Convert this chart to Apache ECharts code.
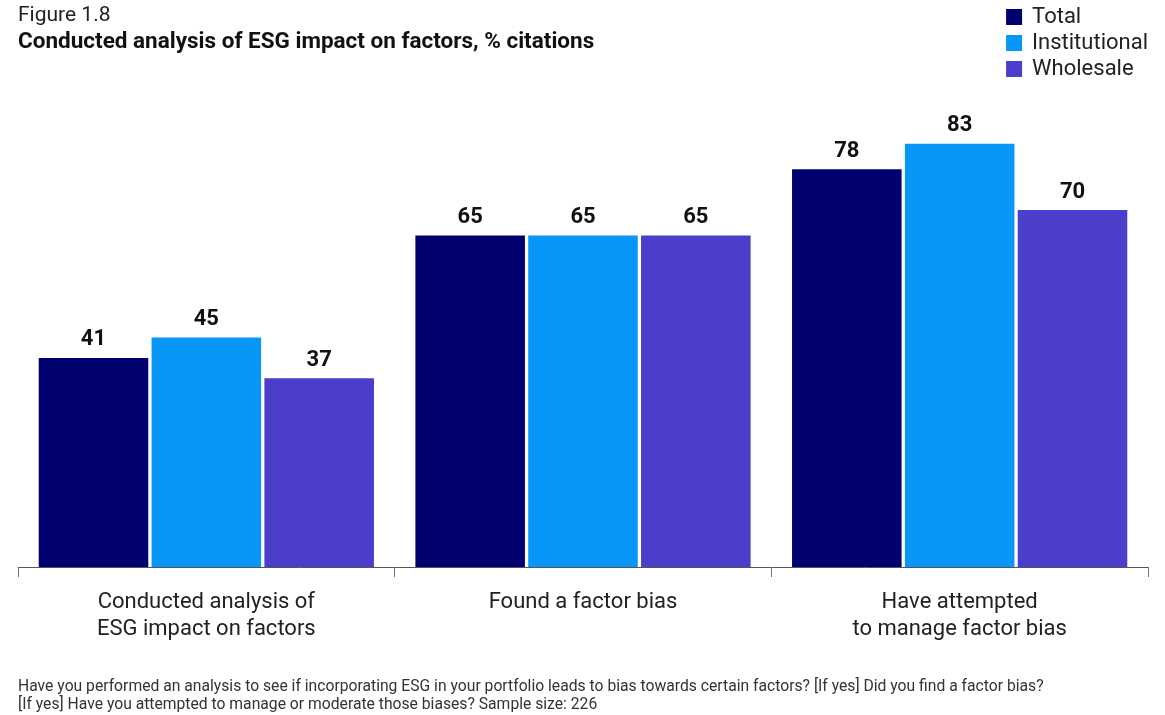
<!DOCTYPE html>
<html><head><meta charset="utf-8">
<script src="https://cdn.jsdelivr.net/npm/echarts@6/dist/echarts.min.js"></script>
<style>html,body{margin:0;padding:0;background:#fff}#c{width:1165px;height:715px}</style>
</head><body><div id="c"></div>
<script>
const categories = ['Conducted analysis of\nESG impact on factors', 'Found a factor bias', 'Have attempted\nto manage factor bias'];
const seriesNames = ['Total', 'Institutional', 'Wholesale'];
const totalValues = [41, 65, 78];
const institutionalValues = [45, 65, 83];
const wholesaleValues = [37, 65, 70];
const colors = ['#00006E', '#0897F8', '#4A3ECB'];
const titleText = 'Figure 1.8';
const subtitleText = 'Conducted analysis of ESG impact on factors, % citations';
const footnoteText = 'Have you performed an analysis to see if incorporating ESG in your portfolio leads to bias towards certain factors? [If yes] Did you find a factor bias?\n[If yes] Have you attempted to manage or moderate those biases? Sample size: 226';

const FONT = 'Roboto';
const chart = echarts.init(document.getElementById('c'));
const valuesList = [totalValues, institutionalValues, wholesaleValues];
chart.setOption({
  animation: false,
  textStyle: {fontFamily: FONT},
  title: [
    {text: titleText, left: 18, top: 5, padding: 0, textStyle: {fontFamily: FONT, fontSize: 21, fontWeight: 'normal', color: '#222'}},
    {text: subtitleText, left: 18, top: 31, padding: 0, textStyle: {fontFamily: FONT, fontSize: 22.5, fontWeight: 'bold', color: '#111'}},
    {text: footnoteText, left: 18, top: 678, padding: 0, textStyle: {fontFamily: FONT, fontSize: 15.7, fontWeight: 'normal', color: '#333', lineHeight: 18}}
  ],
  legend: {
    data: seriesNames, orient: 'vertical', right: 17, top: 6, padding: 0,
    itemWidth: 16, itemHeight: 16, itemGap: 4, icon: 'rect',
    textStyle: {fontFamily: FONT, fontSize: 22, color: '#222', padding: [0, 0, 0, 5]}
  },
  grid: {left: 18, right: 17, top: 57, bottom: 148},
  xAxis: {
    type: 'category', data: categories,
    axisLine: {lineStyle: {color: '#555', width: 1}},
    axisTick: {show: true, length: 10, lineStyle: {color: '#777'}},
    axisLabel: {fontFamily: FONT, fontSize: 22, color: '#222', margin: 22, lineHeight: 27}
  },
  yAxis: {type: 'value', min: 0, max: 100, show: false, splitLine: {show: false}},
  series: seriesNames.map((n, i) => ({
    name: n, type: 'bar', data: valuesList[i],
    barGap: '3%', barCategoryGap: '11%',
    itemStyle: {color: colors[i]},
    label: {show: true, position: 'top', distance: 7, fontFamily: FONT, fontSize: 22, fontWeight: 'bold', color: '#111'}
  }))
});
</script></body></html>
